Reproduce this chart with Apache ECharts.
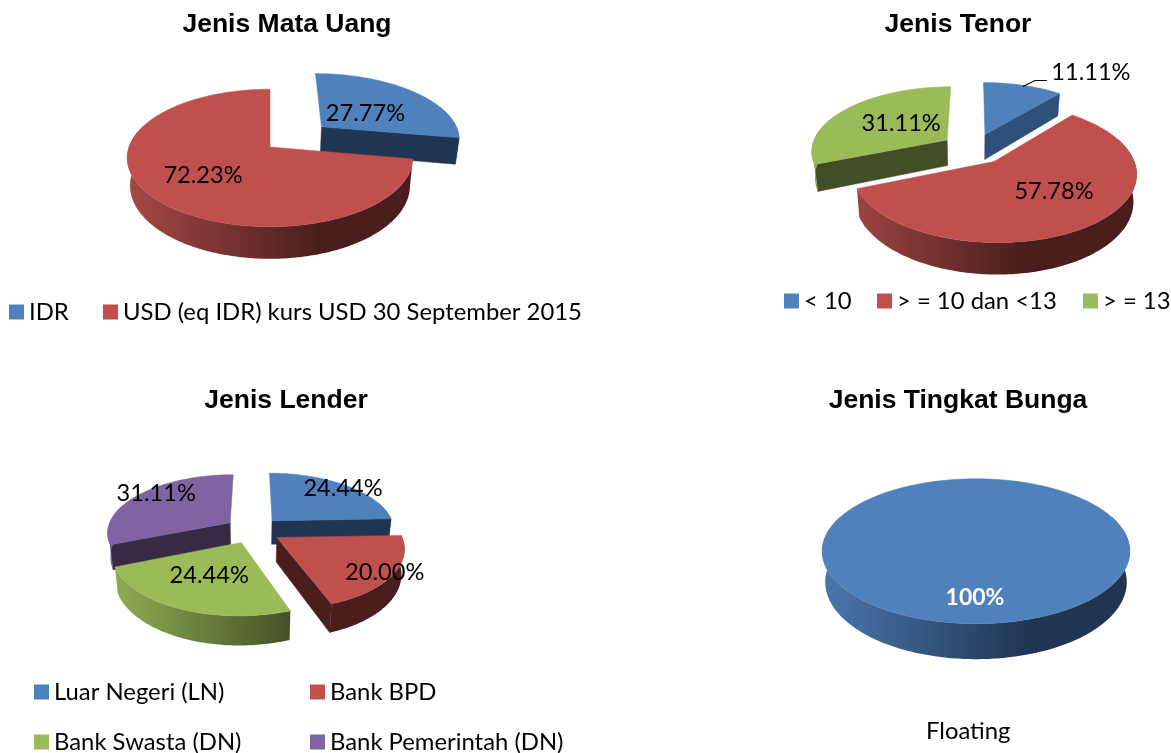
<!DOCTYPE html>
<html><head><meta charset="utf-8">
<style>html,body{margin:0;padding:0;background:#fff}#c{width:1171px;height:753px}</style>
<script src="https://cdn.jsdelivr.net/npm/echarts@6/dist/echarts.min.js"></script>
</head><body><div id="c"></div>
<script>
// ---- data ----
const mataUangNames = ['IDR', 'USD (eq IDR) kurs USD 30 September 2015'];
const mataUangValues = [27.77, 72.23];
const tenorNames = ['< 10', '> = 10 dan <13', '> = 13'];
const tenorValues = [11.11, 57.78, 31.11];
const lenderNames = ['Luar Negeri (LN)', 'Bank BPD', 'Bank Swasta (DN)', 'Bank Pemerintah (DN)'];
const lenderValues = [24.44, 20.00, 24.44, 31.11];
const bungaNames = ['Floating'];
const bungaValues = [100];

// ---- styles & layout ----
const BODY_FONT = 'Lato';
const palette = {
  blue:   {top:'#4F81BD', light:'#4C79B0', dark:'#1F3552'},
  red:    {top:'#C0504D', light:'#A84A47', dark:'#4A1E1C'},
  green:  {top:'#9BBB59', light:'#8CA850', dark:'#404F26'},
  purple: {top:'#8064A2', light:'#735A92', dark:'#362A44'}
};
const pies = [
  {names:mataUangNames, values:mataUangValues, colors:['blue','red'],
   cx:270, ay:147, rx:141, ry:67, k:0.159, d:27, explode:[0.44,0], nudge:[[6,-2],[0,0]],
   labelOffset:[[44,-13],[-67,28]], fmt:v=>v.toFixed(2)+'%'},
  {names:tenorNames, values:tenorValues, colors:['blue','red','green'],
   cx:974, ay:148.6, rx:136, ry:64, k:0.155, d:26, explode:[0.243,0.243,0.243],
   labelOffset:[[106,-62],[60,30],[-46,-17]], fmt:v=>v.toFixed(2)+'%',
   innerWall:{blue:'#2F5078'}, leader:{slice:0, pts:[[38,-48],[50,-54],[62,-54]]}},
  {names:lenderNames, values:lenderValues, colors:['blue','red','green','purple'],
   cx:253, ay:530, rx:123, ry:57.7, k:0.156, d:24, explode:[0.228,0.228,0.228,0.228],
   labelOffset:[[71,-32],[108,35],[-32,33],[-74,-29]], fmt:v=>v.toFixed(2)+'%'},
  {names:bungaNames, values:bungaValues, colors:['blue'],
   cx:976, ay:540, rx:152, ry:70.7, k:0.155, d:30, explode:[0],
   labelOffset:[[-1,58]], fmt:v=>v.toFixed(0)+'%', labelStyle:{fill:'#fff',font:'bold 23px '+BODY_FONT}}
];

function sliceRender(p,i,t0,t1){
  const col=palette[p.colors[i]], rad=Math.PI/180;
  const mid=(t0+t1)/2*rad, e=p.explode[i];
  const ou=e*Math.sin(mid), ov=-e*Math.cos(mid);
  const n=p.nudge?p.nudge[i]:[0,0];
  const proj=(u,v)=>{const s=1/(1-p.k*v);return [p.cx+p.rx*u*s+n[0], p.ay+p.ry*v*s+n[1], s];};
  const low=q=>[p.cx+(q[0]-p.cx)*0.98, q[1]+p.d*q[2]];
  const at=t=>proj(ou+Math.sin(t*rad),ov-Math.cos(t*rad));
  const apex=proj(ou,ov);
  const kids=[];
  const grad={type:'linear',global:true,x:p.cx-p.rx*1.05,y:0,x2:p.cx+p.rx*0.35,y2:0,
    colorStops:[{offset:0,color:col.light},{offset:1,color:col.dark}]};
  const wallColor=(p.innerWall&&p.innerWall[p.colors[i]])||col.dark;
  const inner=t=>{const q=at(t);
    kids.push({type:'polygon',shape:{points:[apex.slice(0,2),q.slice(0,2),low(q),low(apex)]},
      style:{fill:wallColor,stroke:wallColor,lineWidth:0.5}});};
  if(Math.sin(t0*rad)<-0.01) inner(t0);
  if(Math.sin(t1*rad)>0.01) inner(t1);
  const a=Math.max(t0,70), b=Math.min(t1,290);
  if(b>a){
    const up=[],dn=[];
    for(let t=a;;t+=1){const tt=Math.min(t,b),q=at(tt);up.push(q.slice(0,2));dn.unshift(low(q));if(tt>=b)break;}
    kids.push({type:'polygon',shape:{points:up.concat(dn)},style:{fill:grad}});
  }
  const pts=[];
  if(t1-t0<360) pts.push(apex.slice(0,2));
  for(let t=t0;;t+=1){const tt=Math.min(t,t1),q=at(tt);pts.push(q.slice(0,2));if(tt>=t1)break;}
  kids.push({type:'polygon',shape:{points:pts},style:{fill:col.top,stroke:col.top,lineWidth:0.5}});
  const lo=p.labelOffset[i], ls=p.labelStyle||{fill:'#000',font:'23.6px '+BODY_FONT};
  if(p.leader&&p.leader.slice===i){
    kids.push({type:'polyline',shape:{points:p.leader.pts.map(o=>[apex[0]+o[0],apex[1]+o[1]])},
      style:{stroke:'#000',lineWidth:1.2,fill:null}});
  }
  kids.push({type:'text',z2:10,style:{text:p.fmt(p.values[i]),x:apex[0]+lo[0],y:apex[1]+lo[1],
    fill:ls.fill,font:ls.font,align:'center',verticalAlign:'middle',textAlign:'center',textVerticalAlign:'middle'}});
  return {type:'group',children:kids};
}

const series=[];
pies.forEach(p=>{
  const total=p.values.reduce((a,b)=>a+b,0);
  let acc=0;
  const slices=p.values.map((v,i)=>{
    const t0=acc/total*360; acc+=v; const t1=acc/total*360;
    return {i,t0,t1,depth:-p.explode[i]*Math.cos((t0+t1)/2*Math.PI/180)};
  });
  const order=slices.slice().sort((a,b)=>a.depth-b.depth);
  slices.forEach(s=>{
    series.push({type:'custom',coordinateSystem:'none',name:p.names[s.i],
      z:2+order.indexOf(s),silent:true,
      itemStyle:{color:palette[p.colors[s.i]].top},
      data:[[p.values[s.i]]],
      renderItem:()=>sliceRender(p,s.i,s.t0,s.t1)});
  });
});

const titleStyle={fontFamily:'Liberation Sans',fontWeight:'bold',fontSize:26.5,color:'#000'};
const mkTitle=(text,x,y)=>({text,left:x,top:y,textAlign:'center',textStyle:titleStyle,padding:0});
const legendText={fontFamily:BODY_FONT,fontSize:23.85,color:'#000'};
const mkLegend=(data,left,top,extra)=>Object.assign({data,left,top,padding:0,icon:'rect',itemWidth:15,itemHeight:15,
  itemGap:36,selectedMode:false,textStyle:legendText},extra||{});

const chart=echarts.init(document.getElementById('c'),null,{renderer:'canvas'});
chart.setOption({
  animation:false,
  backgroundColor:'#fff',
  title:[mkTitle('Jenis Mata Uang',287,11),mkTitle('Jenis Tenor',958,11),mkTitle('Jenis Lender',286,387),mkTitle('Jenis Tingkat Bunga',958,387)],
  legend:[
    mkLegend([mataUangNames[0]],9,300),
    mkLegend([mataUangNames[1]],103,300),
    mkLegend([tenorNames[0]],784,289),
    mkLegend([tenorNames[1]],877,289),
    mkLegend([tenorNames[2]],1083,289),
    mkLegend([lenderNames[0]],34,680),
    mkLegend([lenderNames[1]],310,680),
    mkLegend([lenderNames[2]],34,730),
    mkLegend([lenderNames[3]],310,730),
    mkLegend(bungaNames,921,719,{itemWidth:0,itemHeight:0,itemStyle:{opacity:0}})
  ],
  series
});
</script></body></html>
